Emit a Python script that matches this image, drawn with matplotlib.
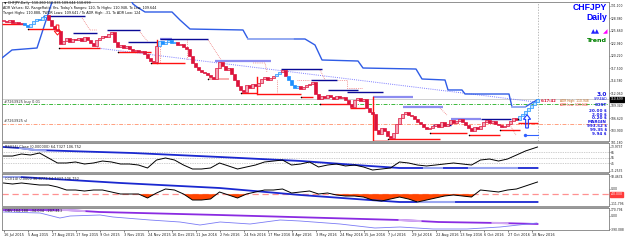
import numpy as np
import matplotlib
matplotlib.use("Agg")
import matplotlib.pyplot as plt
from matplotlib import font_manager
from matplotlib.patches import FancyArrow, Rectangle
from matplotlib.transforms import blended_transform_factory

# ---------------- data ----------------
closes = [127.82, 127.60, 128.04, 127.39, 127.60, 127.17, 127.39,
          126.95, 126.51, 127.17, 127.82, 128.26, 128.04, 128.70, 129.13,
          128.04, 126.73, 126.07,
          125.64, 122.80,
          123.45, 124.11, 123.23, 123.89, 123.67,
          124.11, 123.45, 124.33, 123.67, 123.01, 122.36, 123.67,
          124.11, 124.55, 124.33, 124.98, 125.42,
          123.23, 122.14,
          122.58, 121.92, 122.36, 121.70, 121.27, 121.49, 121.05, 121.27, 120.61,
          119.74, 119.08, 118.86,
          122.36,
          123.45, 122.80, 123.23, 123.67, 123.01, 123.23, 122.58, 122.80, 122.14, 121.70,
          120.18, 118.65, 117.77, 117.12, 116.68, 116.46, 116.02, 115.59,
          115.15,
          117.55, 118.86, 117.99, 117.12, 117.55,
          116.24, 114.93, 113.62, 112.75, 112.31,
          113.84, 113.18, 114.06, 113.62, 114.28,
          115.15, 115.59, 114.93, 115.37, 115.81, 116.24,
          116.68, 117.12,
          115.81, 114.93, 113.84, 113.18, 113.62, 112.96,
          113.40, 113.84, 114.06, 114.49,
          111.87, 110.78,
          111.44, 111.00, 111.65, 111.22, 110.78, 111.44, 111.00, 111.22, 110.56,
          109.69, 109.03,
          110.56, 111.00, 110.34, 110.78,
          108.81, 107.94, 107.50,
          104.00, 103.13, 104.44, 103.79, 102.69,
          102.26, 103.35,
          105.31, 106.63, 107.50, 107.94, 107.28,
          107.06, 106.41, 105.75, 105.31,
          104.66, 104.22, 104.44, 104.88,
          105.31, 104.66, 105.75, 104.88, 105.31,
          106.19, 105.53, 105.97, 106.41, 105.75, 105.10,
          104.44, 103.79, 104.66, 104.22, 104.88,
          105.75, 106.19, 105.53, 105.97, 105.31, 105.10,
          104.66, 104.88, 105.31,
          105.97, 106.63, 106.19,
          107.06, 107.50, 108.16, 108.81, 109.47, 110.12, 110.70]
trend_up_ranges = [(7, 14), (52, 57), (91, 92), (95, 98), (172, 178)]

date_labels = ["16 Jul 2015", "5 Aug 2015", "27 Aug 2015", "17 Sep 2015", "9 Oct 2015",
               "3 Nov 2015", "24 Nov 2015", "16 Dec 2015", "11 Jan 2016", "2 Feb 2016",
               "24 Feb 2016", "17 Mar 2016", "8 Apr 2016", "3 May 2016", "24 May 2016",
               "15 Jun 2016", "7 Jul 2016", "29 Jul 2016", "22 Aug 2016", "13 Sep 2016",
               "6 Oct 2016", "27 Oct 2016", "18 Nov 2016"]
date_tick_bars = [0, 8, 16, 24, 32, 40, 48, 56, 64, 72, 80, 88, 96, 104, 112,
                  120, 128, 136, 144, 152, 160, 168, 176]

price_ticks = [131.10, 128.38, 125.66, 122.94, 120.22, 117.50, 114.78,
               112.06, 109.34, 106.62, 103.90]
last_price = 110.70

# upper envelope step line
env_x = [-0.5, 2.83, 11.17, 16.17, 17.17, 41.5, 43.17, 44.5, 47.17, 56.17, 58.83,
         62.17, 79.83, 81.5, 100.5, 103.83, 106.17, 118.17, 119.83, 137.5, 139.5,
         147.17, 148.17, 152.83, 153.83, 168.5, 169.5, 173.83, 177.83]
env_y = [119.74, 121.49, 121.92, 131.97, 133.50, 133.50, 131.54, 130.88, 129.79,
         129.79, 128.04, 126.07, 125.86, 123.89, 123.89, 122.58, 119.30, 119.08,
         117.55, 117.33, 115.15, 114.93, 112.75, 112.75, 111.87, 111.87, 109.03,
         109.03, 110.56]
env_light = [(81.5, 96.5), (169.5, 173.83)]

navy_levels = [(13, 27, 128.92), (23, 31, 125.20), (34.5, 45.5, 125.86), (41.5, 51, 123.23),
               (52, 68, 123.89), (92.5, 106, 117.33), (102.5, 111, 114.93),
               (108, 118, 112.75), (114.5, 126.5, 112.31), (143, 149, 105.10),
               (159, 169, 106.41)]
lav_levels = [(52, 56, 123.89), (70.5, 89, 119.08), (123, 136.5, 111.22),
              (133, 146.5, 109.03), (149, 159, 106.41)]
red_levels = [(-0.5, 7, 127.17), (8, 17, 126.07), (18.5, 32, 121.92), (38, 49, 121.05),
              (49, 60.5, 118.65), (79, 84.5, 112.09), (84.5, 99, 111.87),
              (99, 103, 111.22), (105.5, 115.5, 109.69), (115.5, 120.5, 108.81),
              (128, 145.5, 102.04), (142, 154.5, 103.35), (155, 165.5, 102.91),
              (165.5, 172, 104.00), (171.5, 178, 105.53)]
salmon_levels = [(68, 75, 115.15), (123, 128, 101.70)]
red_dots = [(8, 126.07), (18.5, 121.92), (38, 121.05), (49, 118.65), (68, 115.15),
            (79, 112.09), (99, 111.22), (105.5, 109.69), (128, 102.04), (142, 103.35),
            (155, 102.91), (165.5, 104.00), (171.5, 106.5)]
red_verticals = [(51, 118.65, 123.67), (84.5, 111.87, 115.59), (123.2, 101.70, 111.22)]

pink_dotted = [([26.2, 28.8, 31.2], [128.48, 125.86, 125.86]),
               ([45.5, 48.2], [125.42, 123.23]),
               ([52.2, 52.2], [123.01, 118.65]),
               ([61.2, 61.2], [123.67, 119.30]),
               ([68.2, 73.2], [123.67, 118.65]),
               ([83.2, 87.2, 87.8], [118.65, 118.65, 116.68]),
               ([91.2, 91.2], [114.93, 112.09]),
               ([97.8, 102.2], [114.93, 114.93]),
               ([105.5, 107.2], [117.12, 114.93]),
               ([111.5, 114.5, 114.5, 119.8], [114.93, 114.93, 113.18, 113.18]),
               ([127.2, 129.8], [111.44, 111.44]),
               ([145.5, 147.8], [108.81, 107.28]),
               ([168.8, 170.8], [105.10, 102.91])]
trend_dotted_x = [31.2, 177.5]
trend_dotted_y = [121.92, 110.12]

buy_level = 109.62
sl_level = 105.31

# indicator panels (sampled every 3 bars)
ind_x = list(range(0, 178, 3)) + [178]
rsi = [57.9, 57.9, 61.5, 59.7, 63.3, 54.4, 45.5, 45.5, 47.3, 43.7, 45.5, 49.0, 47.3,
       43.7, 43.7, 41.9, 36.6, 50.8, 54.4, 50.8, 41.9, 34.8, 34.8, 36.6, 45.5, 40.2,
       34.8, 38.4, 41.9, 47.3, 49.0, 50.8, 41.9, 43.7, 47.3, 38.4, 41.9, 43.7, 40.2,
       41.9, 38.4, 33.0, 34.8, 36.6, 47.3, 45.5, 41.9, 40.2, 41.9, 43.7, 45.5, 43.7,
       41.9, 50.8, 52.6, 49.0, 52.6, 59.7, 66.9, 72.2, 73.97]
rsi_levels = [65, 55, 45]
rsi_slow_x = [0, 5.5, 10.5, 43, 72, 99, 122, 132, 178]
rsi_slow = [73.97, 72.2, 68.6, 63.3, 56.2, 49.1, 40.2, 36.6, 36.6]
rsi_slow_light = [(5.5, 14), (140, 146), (155, 171)]

cci = [42.2, 34.8, 42.2, 34.8, 27.5, 27.5, 12.8, -9.2, -9.2, -16.5, -9.2, -9.2, -23.8,
       -38.5, -38.5, -38.5, -67.8, -31.2, -1.8, -9.2, -38.5, -82.5, -82.5, -75.1, -23.8,
       -45.8, -67.8, -38.5, -23.8, -9.2, -9.2, -1.8, -31.2, -23.8, -16.5, -38.5, -31.2,
       -45.8, -53.2, -53.2, -60.5, -82.5, -89.8, -75.1, -60.5, -75.1, -97.1, -82.5,
       -67.8, -53.2, -45.8, -53.2, -60.5, -9.2, -16.5, -23.8, -9.2, -1.8, 20.2, 42.2, 49.5]
cci_level = -40.0
cci_slow_x = [0, 5.5, 39, 72, 99, 122, 132, 178]
cci_slow = [86.1, 86.1, 42.2, 5.5, -45.8, -82.5, -97.1, -97.1]
cci_slow_light = [(0, 5.5), (138, 150)]

obv_ma_x = [0, 21, 32, 72, 132, 145, 165, 178]
obv_ma = [170.8, 170.8, 111.8, 23.2, -124.4, -183.5, -213.0, -242.5]
obv_ma_light = [(19, 27), (132, 139), (163, 168)]
obv_x = [0, 12.2, 18.8, 22.2, 32.2, 36.5, 48.8, 58.8, 65.5, 72.2, 82.2, 92.2, 98.8,
         112.2, 123.8, 132.2, 143.2, 154.5, 165.5, 177.8]
obv = [111.8, 82.2, -65.4, -6.3, 23.2, -35.8, -124.4, -183.5, -272.0, -183.5, -242.5,
       -124.4, -153.9, -242.5, -360.6, -331.1, -390.1, -390.1, -331.1, -213.0]

# ---------------- fonts ----------------
names = {f.name for f in font_manager.fontManager.ttflist}
NARROW = 'Liberation Sans Narrow' if 'Liberation Sans Narrow' in names else 'Liberation Sans'
plt.rcParams['font.family'] = ['DejaVu Sans']

W, H = 625, 240
fig = plt.figure(figsize=(W / 100, H / 100), dpi=100)
fig.patch.set_facecolor('white')


def pax(x0, y0, x1, y1):
    return fig.add_axes([x0 / W, 1 - y1 / H, (x1 - x0) / W, (y1 - y0) / H])


def ftext(x, y, s, **kw):
    return fig.text(x / W, 1 - y / H, s, **kw)


AXFS = 2.2
XL = (-0.5, 201.83)
ax = pax(2, 2, 609, 141)
ax2 = pax(2, 143, 609, 172)
ax3 = pax(2, 174, 609, 206)
ax4 = pax(2, 208, 609, 230)

for a in (ax, ax2, ax3, ax4):
    a.set_xlim(*XL)
    a.set_facecolor('white')
    for sp in a.spines.values():
        sp.set_color('#808080')
        sp.set_linewidth(0.6)
    a.yaxis.tick_right()
    a.tick_params(axis='y', direction='out', length=1.0, width=0.4, pad=0.3,
                  labelsize=AXFS, colors='#202020')
    a.tick_params(axis='x', bottom=False, labelbottom=False)

# separators
for (y0, y1) in [(141, 143), (172, 174), (206, 208)]:
    fig.add_artist(Rectangle((2 / W, 1 - y1 / H), 607 / W, (y1 - y0) / H,
                             transform=fig.transFigure, color='#9a9a9a', lw=0))

# ---------------- main panel ----------------
ax.set_ylim(101.60, 131.974)
ax.set_yticks(price_ticks)
ax.set_yticklabels([f"{v:.3f}" for v in price_ticks])
ax.set_xticks([])

n = len(closes)
xs = np.arange(n)
opens = [closes[0]] + closes[:-1]
up_flag = np.zeros(n, bool)
for s, e in trend_up_ranges:
    up_flag[s:e + 1] = True
for i in range(n):
    o, c = opens[i], closes[i]
    lo, hi = min(o, c), max(o, c)
    h = max(hi - lo, 0.12)
    if up_flag[i]:
        fc = '#bfe4ff' if c >= o else '#1e90ff'
        ec = '#1e90ff'
    else:
        fc = '#f5a3b5' if c >= o else '#dc143c'
        ec = '#dc143c'
    ax.bar(xs[i], h, bottom=lo, width=0.75, color=fc, edgecolor=ec, linewidth=0.5, zorder=4)

ax.axhline(last_price, color='#c8c8c8', lw=0.6, zorder=1)
ax.axvline(xs[-1], color='#a0a0a0', lw=0.5, ls=(0, (2, 2)), zorder=1)

# envelope step line
ax.plot(env_x, env_y, color='#2f5ce6', lw=1.0, zorder=3)
for s, e in env_light:
    sx = [s] + [xx for xx in env_x if s < xx < e] + [e]
    ax.plot(sx, np.interp(sx, env_x, env_y), color='#9fb3f2', lw=1.2, zorder=3)

ax.plot(trend_dotted_x, trend_dotted_y, color='#7a7aff', lw=0.7, ls=(0, (1, 1.2)), zorder=2)
for px, py in pink_dotted:
    ax.plot(px, py, color='#f08080', lw=0.6, ls=(0, (1, 1.2)), zorder=2)

for s, e, p in lav_levels:
    ax.plot([s, e], [p, p], color='#8c8cf0', lw=1.6, zorder=3, solid_capstyle='butt')
for s, e, p in navy_levels:
    ax.plot([s, e], [p, p], color='#0a0a96', lw=1.0, zorder=3, solid_capstyle='butt')
for s, e, p in salmon_levels:
    ax.plot([s, e], [p, p], color='#f7a0a0', lw=1.2, zorder=3, solid_capstyle='butt')
for s, e, p in red_levels:
    ax.plot([s, e], [p, p], color='#ff1010', lw=1.0, zorder=3, solid_capstyle='butt')
for xv, p0, p1 in red_verticals:
    ax.plot([xv, xv], [p0, p1], color='#ff1010', lw=1.0, zorder=3)
ax.scatter([d[0] for d in red_dots], [d[1] for d in red_dots], s=1.2, color='black', zorder=5, lw=0)

ax.axhline(buy_level, color='#3cb83c', lw=0.7, ls=(0, (4, 1.5, 1, 1.5)), zorder=2)
ax.axhline(sl_level, color='#ffa080', lw=0.7, ls=(0, (4, 1.5, 1, 1.5)), zorder=2)
ax.text(0.3, buy_level + 0.35, "#7263925 buy 0.01", fontsize=2.6, color='#303030', zorder=6)
ax.text(0.3, sl_level + 0.35, "#7263925 sl", fontsize=2.6, color='#303030', zorder=6)

# arrows
ax.add_patch(FancyArrow(18.0, 126.95, 0, -2.2, width=0.9, head_width=2.2, head_length=0.9,
                        length_includes_head=True, fill=False, ec='#ff1010', lw=0.7, zorder=6))
ax.add_patch(FancyArrow(174.5, 104.44, 0, 2.9, width=0.9, head_width=2.4, head_length=1.0,
                        length_includes_head=True, fill=False, ec='#1a3cff', lw=0.8, zorder=6))
ax.plot([173.8, 178], [102.91, 102.91], color='#3060ff', lw=0.8, zorder=6)
ax.scatter([173.8], [102.91], s=6, color='#3060ff', zorder=7, lw=0)

# current price box
bt = blended_transform_factory(ax.transAxes, ax.transData)
ax.text(1.0025, last_price, "110.699", transform=bt, fontsize=AXFS, color='white',
        va='center', ha='left', clip_on=False,
        bbox=dict(boxstyle='square,pad=0.15', fc='black', ec='black'))
ax.text(1.003, 101.18, "101.180", transform=bt, fontsize=AXFS, color='#202020',
        va='center', ha='left', clip_on=False)

# top-left info text
ftext(4, 3.3, "▼ CHFJPY,Daily  110.260 110.835 109.644 110.699", fontsize=2.4, va='center', color='#101010')
ftext(3, 8.0, "ADR Values: 82, RangeRatio: Yes, Today's Ranges: 120, To Highs: 110.948, To Low: 109.644",
      fontsize=2.4, va='center', color='#101010')
ftext(3, 13.3, "Target Highs: 110.888, TWDR Lows: 109.641 / To ADR High: -31, To ADR Low: 124",
      fontsize=2.4, va='center', color='#101010')

# right-side labels
ftext(607, 8, "CHFJPY", fontsize=6.2, fontweight='bold', color='#0000ff', ha='right', va='center',
      family=[NARROW, 'DejaVu Sans'])
ftext(607, 17, "Daily", fontsize=6.2, fontweight='bold', color='#0000ff', ha='right', va='center',
      family=[NARROW, 'DejaVu Sans'])
ftext(600, 32, "▲▲", fontsize=4.2, color='#2020ff', ha='right', va='center')
ftext(607, 32, "◢", fontsize=4.2, color='#ff00ff', ha='right', va='center')
ftext(607, 40, "Trend", fontsize=4.6, fontweight='bold', color='#008000', ha='right', va='center')

ftext(541, 101, "6:17:42", fontsize=2.6, fontweight='bold', color='#e01030', va='center')
ftext(560, 101, "ADR High: 110.948", fontsize=2.2, color='#c86414', va='center')
ftext(560, 104.5, "ADR Low: 109.644", fontsize=2.2, color='#ff3030', va='center')

right_info = [("3.0", 94.5, 4.2, 'bold'), ("SPREAD", 98.8, 2.4, 'normal'),
              ("COST", 105, 3.0, 'bold'), ("20.00 $", 111, 3.0, 'bold'),
              ("2.00 $", 114.5, 3.0, 'bold'), ("0.20 $", 118, 3.0, 'bold'),
              ("MARGIN", 122, 3.0, 'bold'), ("993.52 $", 126, 3.0, 'bold'),
              ("99.35 $", 130, 3.0, 'bold'), ("9.94 $", 134, 3.0, 'bold')]
for s, yy, fs, fw in right_info:
    ftext(607, yy, s, fontsize=fs, fontweight=fw, color='#1414e6', ha='right', va='center')

# ---------------- panel 2 (RSI) ----------------
ax2.set_ylim(29.47, 81.09)
ax2.set_yticks([73.9737] + rsi_levels + [31.2535])
ax2.set_yticklabels(["73.9737"] + [str(v) for v in rsi_levels] + ["31.2535"])
ax2.set_xticks([])
for lv in rsi_levels:
    ax2.axhline(lv, color='#a0a0a0', lw=0.5, ls=(0, (1, 1.5)))
ax2.plot(rsi_slow_x, rsi_slow, color='#1a28d0', lw=1.3, zorder=2)
for s, e in rsi_slow_light:
    sx = [s] + [xx for xx in rsi_slow_x if s < xx < e] + [e]
    ax2.plot(sx, np.interp(sx, rsi_slow_x, rsi_slow), color='#9aa6f0', lw=1.5, zorder=2)
ax2.plot(ind_x, rsi, color='black', lw=0.7, zorder=3)
ftext(5, 147.5, "RSI(14) Close (0.000000) 64.7327 106.752", fontsize=2.5, va='center', color='#202020')

# ---------------- panel 3 (CCI) ----------------
ax3.set_ylim(-126.46, 108.13)
ax3.set_yticks([93.4674, 0.0, -111.796])
ax3.set_yticklabels(["93.4674", "0.00", "-111.796"])
ax3.set_xticks([])
ax3.axhline(cci_level, color='#ff9090', lw=0.9, ls=(0, (5, 3)), zorder=1)
cci_arr = np.array(cci)
ax3.fill_between(ind_x, cci_arr, cci_level, where=cci_arr < cci_level, interpolate=True,
                 color='#ff4500', lw=0, zorder=2)
ax3.plot(cci_slow_x, cci_slow, color='#1a28d0', lw=1.3, zorder=2)
for s, e in cci_slow_light:
    sx = [s] + [xx for xx in cci_slow_x if s < xx < e] + [e]
    ax3.plot(sx, np.interp(sx, cci_slow_x, cci_slow), color='#9aa6f0', lw=1.5, zorder=2)
ax3.plot(ind_x, cci, color='black', lw=0.7, zorder=3)
bt3 = blended_transform_factory(ax3.transAxes, ax3.transData)
ax3.text(1.0025, cci_level, "-40.000", transform=bt3, fontsize=AXFS, color='white', va='center',
         ha='left', clip_on=False, bbox=dict(boxstyle='square,pad=0.15', fc='#ff3b3b', ec='#ff3b3b'))
ftext(5, 179.5, "CCI(14) 0.0000 96.8773 64.7327 106.752", fontsize=2.5, va='center', color='#202020')

# ---------------- panel 4 (OBV) ----------------
ax4.set_ylim(-419.6, 229.8)
ax4.set_yticks([170.794, 0.0, -390.088])
ax4.set_yticklabels(["170.794", "0.00", "-390.088"])
ax4.plot(obv_ma_x, obv_ma, color='#8a2be2', lw=1.3, zorder=2)
for s, e in obv_ma_light:
    sx = [s] + [xx for xx in obv_ma_x if s < xx < e] + [e]
    ax4.plot(sx, np.interp(sx, obv_ma_x, obv_ma), color='#d2a8f2', lw=1.5, zorder=2)
ax4.plot(obv_x, obv, color='#7b7bf5', lw=0.6, zorder=3)
ftext(5, 211.5, "OBV 184.188  -34.034  -207.413", fontsize=2.5, va='center', color='#202020')

ax4.set_xticks(date_tick_bars)
ax4.set_xticklabels(date_labels, ha='left')
ax4.tick_params(axis='x', bottom=True, labelbottom=True, direction='out', length=1.5,
                width=0.4, pad=1, labelsize=2.5, colors='#202020')

fig.savefig("out.png", dpi=100, facecolor='white')
